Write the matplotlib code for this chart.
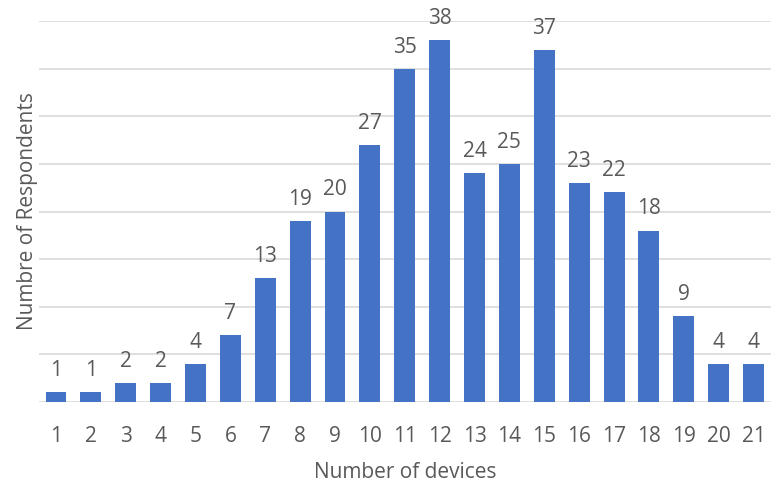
import matplotlib
matplotlib.use("Agg")
import matplotlib.pyplot as plt

devices = list(range(1, 22))
respondents = [1, 1, 2, 2, 4, 7, 13, 19, 20, 27, 35, 38, 24, 25, 37, 23, 22, 18, 9, 4, 4]
grid_levels = [0, 5, 10, 15, 20, 25, 30, 35, 40]

plt.rcParams['font.family'] = ['Open Sans', 'DejaVu Sans']
text_color = '#595959'
fs = 15

fig = plt.figure(figsize=(7.71, 4.90), dpi=100)
ax = fig.add_axes([0.05, 0.1796, 0.95, 0.957 - 0.1796])

ax.bar(devices, respondents, width=0.6, color='#4472c4', zorder=3)
ax.set_xlim(0.5, 21.5)
ax.set_ylim(0, 40)
ax.set_yticks(grid_levels)
ax.set_yticklabels([])
ax.tick_params(axis='y', length=0)
ax.yaxis.grid(True, color='#d9d9d9', linewidth=1.2, zorder=0)
ax.set_xticks(devices)
ax.set_xticklabels([str(d) for d in devices], fontsize=fs, color=text_color)
ax.tick_params(axis='x', length=0, pad=17)
for side in ['top', 'right', 'left', 'bottom']:
    ax.spines[side].set_visible(False)

for x, v in zip(devices, respondents):
    ax.annotate(str(v), (x, v), xytext=(0, 8), textcoords='offset points',
                ha='center', va='bottom', fontsize=fs, color=text_color,
                annotation_clip=False)

ax.set_xlabel('Number of devices', fontsize=fs, color=text_color, labelpad=11)
ax.set_ylabel('Numbre of Respondents', fontsize=fs, color=text_color, labelpad=-3)

fig.savefig('out.png', dpi=100)
